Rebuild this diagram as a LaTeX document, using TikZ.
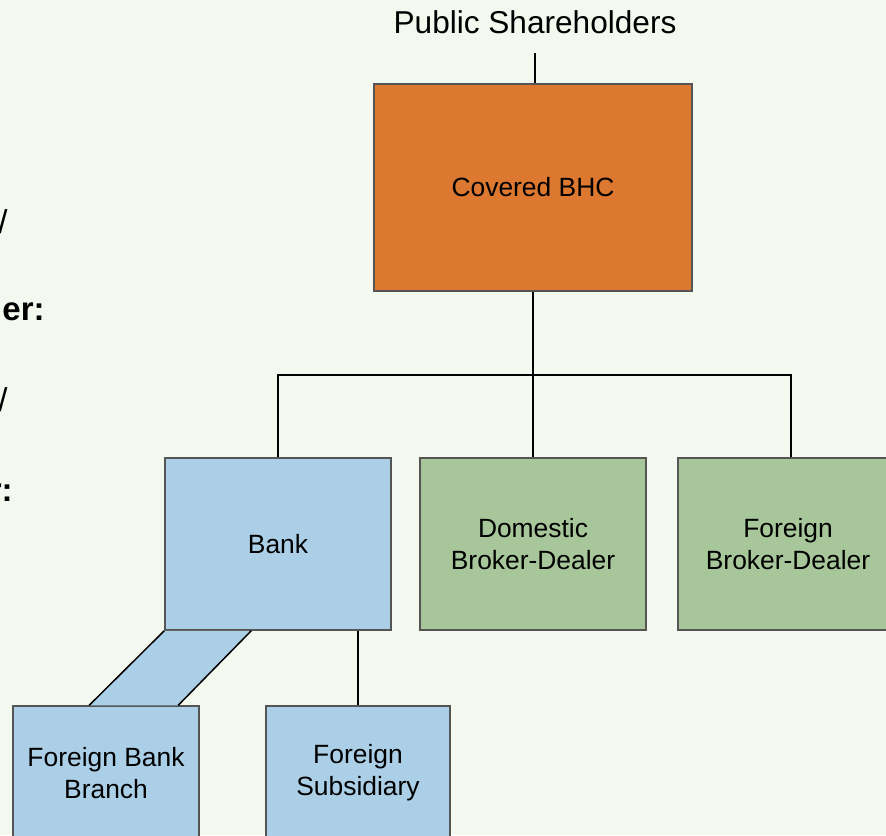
\documentclass[tikz,border=0pt]{standalone}
\usepackage{fontspec}
\setmainfont{Liberation Sans}
\usepackage{xcolor}
\usetikzlibrary{positioning}

\definecolor{slidebg}{HTML}{F4F9F0}
\definecolor{bhcorange}{HTML}{DD7830}
\definecolor{bankblue}{HTML}{ABCFE7}
\definecolor{dealergreen}{HTML}{A7C79A}
\definecolor{boxline}{HTML}{555555}

\begin{document}
\begin{tikzpicture}[x=0.5pt,y=-0.5pt,every node/.style={align=center},
  box/.style={draw=boxline,line width=0.75pt,inner sep=0pt,minimum width=113pt,
    minimum height=86pt,font=\fontsize{13.2}{16}\selectfont},
  link/.style={line width=1.2pt,black},
  cut/.style={anchor=east,inner sep=0pt,font=\fontsize{16.5}{19}\selectfont}]

  % page
  \useasboundingbox (0,0) rectangle (886,835);
  \clip (0,0) rectangle (886,835);
  \fill[slidebg] (0,0) rectangle (886,835);

  % cut-off text on the left
  \node[cut] (lineA) at (8,222) {/};
  \node[cut] (lineB) at (45,312) {\bfseries er:};
  \node[cut] (lineC) at (8,400) {/};
  \node[cut] (lineD) at (13,493) {\bfseries r:};

  % holding company
  \node[font=\fontsize{15.8}{19}\selectfont] (public) at (535,22) {Public Shareholders};
  \node[box,fill=bhcorange,minimum width=159pt,minimum height=103.5pt] (bhc) at (533,187.5) {Covered BHC};
  \coordinate (owner) at (535,53);
  \draw[link] (owner) -- (owner |- bhc.north);

  % subsidiaries
  \node[box,fill=bankblue] (bank) at (278,544) {Bank};
  \node[box,fill=dealergreen] (domestic) at (533,544) {Domestic\\Broker-Dealer};
  \node[box,fill=dealergreen] (foreign) at (791,544) {\hspace*{-3pt}Foreign\\\hspace*{-3pt}Broker-Dealer};

  \coordinate (split) at (533,375);
  \draw[link] (bhc.south) -- (split);
  \draw[link] (bank.north) |- (split) -| (foreign.north);
  \draw[link] (split) -- (domestic.north);

  % bank subsidiaries
  \node[box,fill=bankblue,minimum width=93pt,minimum height=67pt] (branch) at (106,773) {Foreign Bank\\Branch};
  \node[box,fill=bankblue,minimum width=92pt,minimum height=67pt] (subsid) at (358,773) {Foreign\\Subsidiary};
  \draw[link] (subsid.north) -- (subsid.north |- bank.south);

  \fill[bankblue] (bank.south west) -- ++(87,0) -- ([xshift=83pt]branch.north west)
    -- ([xshift=38.5pt]branch.north west) -- cycle;
  \draw[line width=0.75pt] (bank.south west) -- ([xshift=38.5pt]branch.north west);
  \draw[line width=0.75pt] ([xshift=43.5pt]bank.south west) -- ([xshift=83pt]branch.north west);

\end{tikzpicture}
\end{document}
